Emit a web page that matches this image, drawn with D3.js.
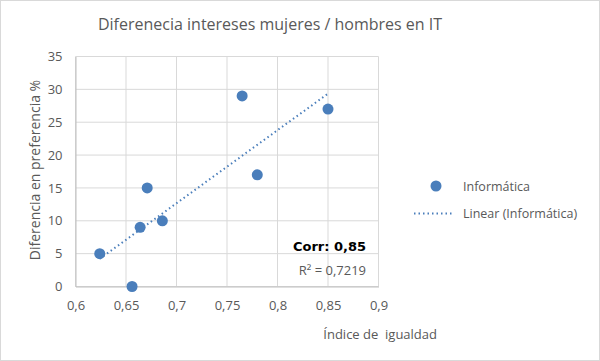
<!DOCTYPE html>
<html><head><meta charset="utf-8">
<script src="https://cdn.jsdelivr.net/npm/d3@7/dist/d3.min.js"></script>
<style>body{margin:0;background:#fff}svg{display:block}text{font-family:"Open Sans","Noto Sans",sans-serif;fill:#595959}</style>
</head><body><svg id="c" width="600" height="361"></svg>
<script>
const xValues=[0.624,0.656,0.664,0.671,0.686,0.765,0.780,0.850];
const yValues=[5,0,9,15,10,29,17,27];
const xTicks=[0.6,0.65,0.7,0.75,0.8,0.85,0.9];
const yTicks=[0,5,10,15,20,25,30,35];
const seriesName="Informática";
const trendName="Linear (Informática)";
const titleText="Diferenecia intereses mujeres / hombres en IT";
const xLabel="Índice de  igualdad";
const yLabel="Diferencia en preferencia %";
const corrText="Corr: 0,85";
const r2Text="R² = 0,7219";

const svg=d3.select("#c");
svg.append("rect").attr("x",0.5).attr("y",0.5).attr("width",599).attr("height",360).attr("fill","#fff").attr("stroke","#d9d9d9");
const x=d3.scaleLinear().domain([0.6,0.9]).range([75.5,378.5]);
const y=d3.scaleLinear().domain([0,35]).range([286.5,56.5]);
const col="#4a7ebb";
const fmt=d=>String(d).replace(".",",");
// grid
svg.append("g").selectAll("line").data(xTicks).join("line").attr("x1",d=>x(d)).attr("x2",d=>x(d)).attr("y1",y(0)).attr("y2",y(35)).attr("stroke","#d9d9d9");
svg.append("g").selectAll("line").data(yTicks).join("line").attr("y1",d=>y(d)).attr("y2",d=>y(d)).attr("x1",x(0.6)).attr("x2",x(0.9)).attr("stroke","#d9d9d9");
// axes
const xa=svg.append("g").attr("transform",`translate(0,${y(0)})`).call(d3.axisBottom(x).tickValues(xTicks).tickFormat(fmt).tickSize(0).tickPadding(14));
xa.select(".domain").attr("stroke","#bfbfbf");
const ya=svg.append("g").attr("transform",`translate(${x(0.6)},0)`).call(d3.axisLeft(y).tickValues(yTicks).tickSize(0).tickPadding(13));
ya.select(".domain").attr("stroke","#bfbfbf");
svg.selectAll(".tick text").attr("font-size",13).attr("fill","#595959").attr("font-family",'"Open Sans","Noto Sans",sans-serif');
// trendline
const mx=d3.mean(xValues),my=d3.mean(yValues);
const b=d3.sum(xValues.map((v,i)=>(v-mx)*(yValues[i]-my)))/d3.sum(xValues.map(v=>(v-mx)**2));
const a=my-b*mx;
const x0=d3.min(xValues),x1=d3.max(xValues);
svg.append("line").attr("x1",x(x0)).attr("y1",y(a+b*x0)).attr("x2",x(x1)).attr("y2",y(a+b*x1)).attr("stroke",col).attr("stroke-width",2).attr("stroke-dasharray","1.5,3");
// points
svg.append("g").selectAll("circle").data(xValues).join("circle").attr("cx",d=>x(d)).attr("cy",(d,i)=>y(yValues[i])).attr("r",5.5).attr("fill",col);
// annotations
svg.append("text").attr("x",366).attr("y",251).attr("text-anchor","end").attr("font-size",13).attr("font-weight","bold").style("font-family","DejaVu Sans").style("fill","#000").text(corrText);
svg.append("text").attr("x",366).attr("y",275).attr("text-anchor","end").attr("font-size",13).text(r2Text);
// title and labels
svg.append("text").attr("x",270).attr("y",30).attr("text-anchor","middle").attr("font-size",16).text(titleText);
svg.append("text").attr("x",437).attr("y",339).attr("text-anchor","end").attr("font-size",13).style("white-space","pre").text(xLabel);
svg.append("text").attr("transform",`translate(40,170) rotate(-90)`).attr("text-anchor","middle").attr("font-size",14).text(yLabel);
// legend
svg.append("circle").attr("cx",436).attr("cy",186).attr("r",5.5).attr("fill",col);
svg.append("text").attr("x",463).attr("y",190.5).attr("font-size",12.5).text(seriesName);
svg.append("line").attr("x1",414).attr("x2",454).attr("y1",213.5).attr("y2",213.5).attr("stroke",col).attr("stroke-width",2).attr("stroke-dasharray","1.5,3");
svg.append("text").attr("x",463).attr("y",218).attr("font-size",12.5).text(trendName);
</script></body></html>
